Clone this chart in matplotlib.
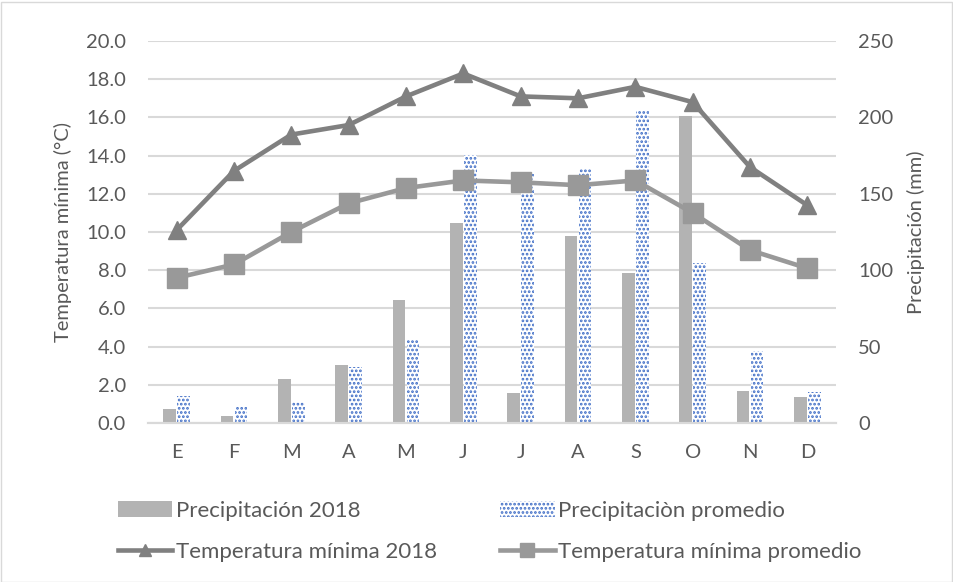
import matplotlib
matplotlib.use("Agg")
import matplotlib.pyplot as plt
from matplotlib.ticker import MultipleLocator, FormatStrFormatter
from matplotlib.patches import Rectangle
import numpy as np

plt.rcParams['font.family'] = ['Lato', 'DejaVu Sans']
plt.rcParams['hatch.linewidth'] = 1.3

# data
months = ['E', 'F', 'M', 'A', 'M', 'J', 'J', 'A', 'S', 'O', 'N', 'D']
precip_2018 = [9.2, 4.6, 28.8, 38.0, 80.5, 130.7, 19.4, 122.6, 98.2, 201.0, 20.9, 17.2]
precip_prom = [17.7, 11.1, 13.7, 36.8, 54.0, 175.4, 163.0, 166.7, 204.4, 104.5, 47.1, 20.5]
tmin_2018 = [10.1, 13.2, 15.1, 15.6, 17.1, 18.3, 17.1, 17.0, 17.6, 16.8, 13.4, 11.4]
tmin_prom = [7.6, 8.3, 10.0, 11.5, 12.3, 12.7, 12.6, 12.45, 12.7, 11.0, 9.05, 8.1]

grid_col = '#D9D9D9'
text_col = '#595959'

fig = plt.figure(figsize=(9.54, 5.82), dpi=100)
ax = fig.add_axes([148/954, 1-423/582, 688/954, 382/582])
ax2 = ax.twinx()

x = np.arange(len(months))
w = 0.22

# bars on the right axis (behind)
b1 = ax2.bar(x - 0.12, precip_2018, w, color='#B3B3B3', linewidth=0, zorder=2)
b2 = ax2.bar(x + 0.12, precip_prom, w, color='white', edgecolor='#3F6DC6',
             hatch='....', linewidth=0, zorder=2)
ax2.set_ylim(0, 250)
ax2.yaxis.set_major_locator(MultipleLocator(50))
ax2.yaxis.set_minor_locator(MultipleLocator(25))
ax2.grid(which='both', axis='y', color=grid_col, linewidth=1.5, zorder=0)
ax2.set_axisbelow(True)
ax2.set_ylabel('Precipitación (mm)', fontsize=14.5, color=text_col, labelpad=10)

# lines on the left axis (in front)
l1, = ax.plot(x, tmin_2018, color='#808080', linewidth=3.3, marker='^',
              markersize=13, zorder=5)
l2, = ax.plot(x, tmin_prom, color='#999999', linewidth=3.3, marker='s',
              markersize=14, zorder=5)
ax.set_ylim(0, 20)
ax.yaxis.set_major_locator(MultipleLocator(2))
ax.yaxis.set_major_formatter(FormatStrFormatter('%.1f'))
ax.set_xlim(-0.5, 11.5)
ax.set_xticks(x)
ax.set_xticklabels(months)
ax.set_ylabel('Temperatura mínima (°C)', fontsize=14.5, color=text_col, labelpad=10)

ax.set_zorder(ax2.get_zorder() + 1)
ax.patch.set_visible(False)

for a in (ax, ax2):
    for s in ('top', 'left', 'right'):
        a.spines[s].set_visible(False)
    a.spines['bottom'].set_color(grid_col)
    a.spines['bottom'].set_linewidth(1.5)
    a.tick_params(which='both', length=0, labelsize=14.5, labelcolor=text_col)
ax.tick_params(axis='y', pad=16)
ax2.tick_params(axis='y', pad=16)
ax.tick_params(axis='x', pad=15)

leg = fig.legend([b1, l1, b2, l2],
                 ['Precipitación 2018', 'Temperatura mínima 2018',
                  'Precipitaciòn promedio', 'Temperatura mínima promedio'],
                 ncol=2, loc='upper left', bbox_to_anchor=(118/954, 1-501/582),
                 frameon=False, fontsize=16, labelcolor=text_col,
                 handlelength=2.45, handletextpad=0.15, columnspacing=2.85,
                 labelspacing=0.95, borderpad=0, borderaxespad=0, markerscale=0.7)

fig.patches.append(Rectangle((0.5/954, 0.5/582), 1-2/954, 1-2/582,
                             transform=fig.transFigure, fill=False,
                             edgecolor=grid_col, linewidth=1))

fig.savefig('out.png', dpi=100)
